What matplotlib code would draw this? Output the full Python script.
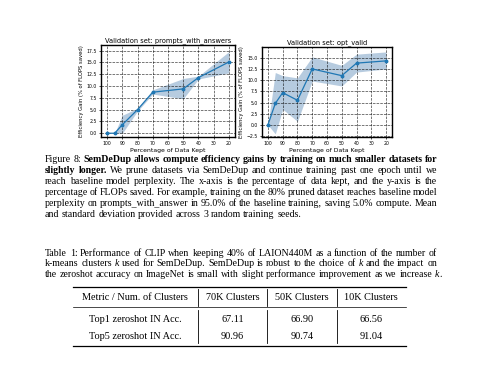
import matplotlib
matplotlib.use('Agg')
import matplotlib.pyplot as plt
from matplotlib.lines import Line2D

# ---- data ----
pct_kept = [100, 95, 90, 80, 70, 50, 40, 20]

pwa_mean = [0.0, 0.0, 1.8, 5.0, 8.7, 9.4, 11.8, 15.1]
pwa_lo   = [0.0, 0.0, 0.0, 4.7, 8.3, 7.3, 11.5, 12.8]
pwa_hi   = [0.0, 0.0, 3.8, 5.3, 9.2, 11.6, 12.1, 17.3]

opt_mean = [0.0, 4.8, 7.2, 5.5, 12.5, 11.0, 13.8, 14.3]
opt_lo   = [0.0, -2.0, 3.5, 0.8, 9.8, 8.7, 11.8, 12.5]
opt_hi   = [0.0, 11.7, 11.0, 10.5, 15.2, 13.3, 15.8, 16.3]

x_ticks = [100, 90, 80, 70, 60, 50, 40, 30, 20]

tbl_header = ['Metric / Num. of Clusters', '70K Clusters', '50K Clusters', '10K Clusters']
tbl_rows   = ['Top1 zeroshot IN Acc.', 'Top5 zeroshot IN Acc.']
tbl_vals   = [['67.11', '66.90', '66.56'],
              ['90.96', '90.74', '91.04']]

N, B, I = {}, {'weight': 'bold'}, {'style': 'italic'}
fig_caption = [
    [('Figure 8: ', N), ('SemDeDup allows compute efficiency gains by training on much smaller datasets for', B)],
    [('slightly longer.', B), (' We prune datasets via SemDeDup and continue training past one epoch until we', N)],
    [('reach baseline model perplexity.  The x-axis is the percentage of data kept, and the y-axis is the', N)],
    [('percentage of FLOPs saved. For example, training on the 80% pruned dataset reaches baseline model', N)],
    [('perplexity on prompts_with_answer in 95.0% of the baseline training, saving 5.0% compute. Mean', N)],
    [('and standard deviation provided across 3 random training seeds.', N)],
]
tbl_caption = [
    [('Table 1: Performance of CLIP when keeping 40% of LAION440M as a function of the number of', N)],
    [('k-means clusters ', N), ('k', I), (' used for SemDeDup. SemDeDup is robust to the choice of ', N), ('k', I),
     (' and the impact on', N)],
    [('the zeroshot accuracy on ImageNet is small with slight performance improvement as we increase ', N),
     ('k', I), ('.', N)],
]

W, H = 480, 365
fig = plt.figure(figsize=(W / 100, H / 100), dpi=100)
fig.patch.set_facecolor('white')

SERIF = 'Liberation Serif'
FS = 7.1
FS_TBL = 7.4
BASE = 2.6   # centre -> baseline offset, px


def px_axes(l, r, t, b):
    return fig.add_axes([l / W, 1 - b / H, (r - l) / W, (b - t) / H])


def draw_panel(ax, mean, lo, hi, title, ylim):
    ax.fill_between(pct_kept, lo, hi, color='#4a7fb0', alpha=0.4, lw=0)
    ax.plot(pct_kept, mean, '-o', color='#1f77b4', lw=0.9, ms=1.8)
    ax.set_xticks(x_ticks)
    ax.set_xlim(104, 16)
    ax.set_ylim(*ylim)
    ax.yaxis.set_major_locator(plt.MultipleLocator(2.5))
    ax.grid(True, color='k', ls='--', lw=0.5, alpha=0.75)
    ax.tick_params(labelsize=3.3, length=1.5, width=0.5, pad=1.5)
    for s in ax.spines.values():
        s.set_linewidth(1.0)
    ax.set_title(title, fontsize=4.8, pad=2)
    ax.set_xlabel('Percentage of Data Kept', fontsize=4.4, labelpad=1.5)
    ax.set_ylabel('Efficiency Gain (% of FLOPS saved)', fontsize=3.8, labelpad=1.5)


ax1 = px_axes(101, 235, 45, 137)
draw_panel(ax1, pwa_mean, pwa_lo, pwa_hi, 'Validation set: prompts_with_answers', (-0.8, 18.7))
ax2 = px_axes(262, 392, 47, 137)
draw_panel(ax2, opt_mean, opt_lo, opt_hi, 'Validation set: opt_valid', (-2.7, 17.4))

# overlay in pixel coordinates for caption + table
ov = fig.add_axes([0, 0, 1, 1], zorder=-1)
ov.set_xlim(0, W)
ov.set_ylim(H, 0)
ov.axis('off')
renderer = fig.canvas.get_renderer()


def split_words(segs):
    words, join = [], False
    for text, st in segs:
        parts = text.split(' ')
        for i, p in enumerate(parts):
            if i > 0:
                join = False
            if p:
                if join and words:
                    words[-1].append((p, st))
                else:
                    words.append([(p, st)])
                join = True
    return words


def measure(s, st):
    t = ov.text(0, 0, s, fontsize=FS, family=SERIF, **st)
    w = t.get_window_extent(renderer).width
    t.remove()
    return w


def paragraph(lines, x0, x1, y0, dy):
    space = measure('a b', N) - measure('ab', N)
    for k, segs in enumerate(lines):
        words = split_words(segs)
        widths = [[measure(p, st) for p, st in wd] for wd in words]
        total = sum(sum(w) for w in widths)
        last = k == len(lines) - 1
        gap = space if last else (x1 - x0 - total) / (len(words) - 1)
        x = x0
        y = y0 + k * dy + BASE
        for wd, ws in zip(words, widths):
            for (p, st), w in zip(wd, ws):
                ov.text(x, y, p, fontsize=FS, family=SERIF, va='baseline', ha='left', **st)
                x += w
            x += gap


paragraph(fig_caption, 45, 437, 159.5, 10.9)
paragraph(tbl_caption, 45, 437, 253.3, 10.3)

# table
col_x = [135, 232.5, 302, 371]
sep_x = [198.3, 267, 337]
tl, tr = 73, 405.5
for yy, lw in [(287.3, 0.9), (306.7, 0.5), (346, 0.9)]:
    ov.add_line(Line2D([tl, tr], [yy, yy], color='k', lw=lw))
for sx in sep_x:
    ov.add_line(Line2D([sx, sx], [288.5, 305.5], color='k', lw=0.6))
    ov.add_line(Line2D([sx, sx], [309.5, 342.5], color='k', lw=0.6))
for cx, h in zip(col_x, tbl_header):
    ov.text(cx, 297.7 + BASE, h, fontsize=FS_TBL, family=SERIF, ha='center', va='baseline')
for r, (name, vals) in enumerate(zip(tbl_rows, tbl_vals)):
    y = 319 + r * 17 + BASE
    ov.text(col_x[0], y, name, fontsize=FS_TBL, family=SERIF, ha='center', va='baseline')
    for cx, v in zip(col_x[1:], vals):
        ov.text(cx, y, v, fontsize=FS_TBL, family=SERIF, ha='center', va='baseline')

fig.savefig('out.png', dpi=100)
